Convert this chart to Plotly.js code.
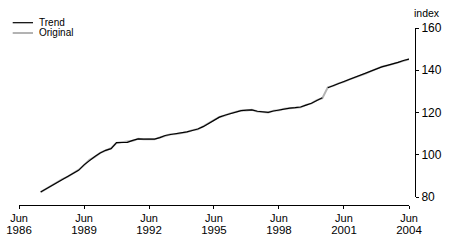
<!DOCTYPE html>
<html><head><meta charset="utf-8">
<script src="https://cdn.plot.ly/plotly-3.0.1.min.js"></script>
<style>html,body{margin:0;padding:0;background:#fff}#chart{width:449px;height:243px}</style>
</head><body><div id="chart"></div>
<script>
const quarters = ['1987-06-01','1987-09-01','1987-12-01','1988-03-01','1988-06-01','1988-09-01','1988-12-01','1989-03-01','1989-06-01','1989-09-01',
'1989-12-01','1990-03-01','1990-06-01','1990-09-01','1990-12-01','1991-03-01','1991-06-01','1991-09-01','1991-12-01','1992-03-01',
'1992-06-01','1992-09-01','1992-12-01','1993-03-01','1993-06-01','1993-09-01','1993-12-01','1994-03-01','1994-06-01','1994-09-01',
'1994-12-01','1995-03-01','1995-06-01','1995-09-01','1995-12-01','1996-03-01','1996-06-01','1996-09-01','1996-12-01','1997-03-01',
'1997-06-01','1997-09-01','1997-12-01','1998-03-01','1998-06-01','1998-09-01','1998-12-01','1999-03-01','1999-06-01','1999-09-01',
'1999-12-01','2000-03-01','2000-06-01','2000-09-01','2000-12-01','2001-03-01','2001-06-01','2001-09-01','2001-12-01','2002-03-01',
'2002-06-01','2002-09-01','2002-12-01','2003-03-01','2003-06-01','2003-09-01','2003-12-01','2004-03-01','2004-06-01'];
const trend = [82.4,83.9,85.4,86.9,88.4,89.8,91.2,92.6,95.2,97.4,
99.2,100.8,102.1,102.9,105.7,105.8,105.9,106.8,107.5,107.4,
107.3,107.4,108.1,109.1,109.6,109.9,110.2,110.8,111.5,112.2,
113.3,114.8,116.3,117.8,118.7,119.5,120.3,120.9,121.1,121.2,
120.6,120.2,120.1,120.7,121.2,121.7,122.1,122.3,122.6,123.5,
124.4,125.7,127.0,131.7,132.7,133.7,134.6,135.6,136.6,137.5,
138.5,139.5,140.6,141.6,142.3,142.9,143.7,144.6,145.3];
const original = [82.3,83.8,85.6,86.8,88.5,89.6,91.3,92.8,95.0,97.6,
99.0,100.9,102.0,103.1,105.6,105.9,106.0,106.6,107.6,107.3,
107.4,107.3,108.2,109.0,109.7,109.8,110.3,110.7,111.6,112.1,
113.4,114.9,116.2,117.9,118.6,119.6,120.2,121.0,121.0,121.3,
120.5,120.3,120.0,120.8,121.1,121.8,122.0,122.4,122.5,123.6,
124.3,125.9,126.8,131.9,132.6,133.8,134.5,135.7,136.5,137.6,
138.4,139.6,140.5,141.7,142.2,143.0,143.6,144.7,145.2];
// trend series is broken between these two quarters (GST introduction)
const trendBreakAfter = '2000-06-01';
const trendBreakDate = '2000-08-01';
const tickDates = ['1986-06-01','1989-06-01','1992-06-01','1995-06-01','1998-06-01','2001-06-01','2004-06-01'];
const tickMonths = ['Jun','Jun','Jun','Jun','Jun','Jun','Jun'];
const tickYears = ['1986','1989','1992','1995','1998','2001','2004'];
const yTicks = [80,100,120,140,160];
const seriesNames = ['Trend','Original'];

const tx = [], ty = [];
quarters.forEach((d,i)=>{ tx.push(d); ty.push(trend[i]); if(d===trendBreakAfter){ tx.push(trendBreakDate); ty.push(null);} });

const FONT = 'Liberation Sans, Arial, sans-serif';
const data = [
  {x: quarters, y: original, type:'scatter', mode:'lines', line:{color:'#b3b3b3', width:2}, showlegend:false, hoverinfo:'skip'},
  {x: tx, y: ty, type:'scatter', mode:'lines', line:{color:'#000', width:1.2}, connectgaps:false, showlegend:false, hoverinfo:'skip'},
  {x: [], y: [], xaxis:'x2', yaxis:'y', type:'scatter', mode:'lines', showlegend:false, hoverinfo:'skip'}
];
const L = 19, R = 34, T = 28, B = 38, W = 449, H = 243;
const pw = W - L - R, ph = H - T - B;
const px = v => (v - L)/pw, py = v => (T + ph - v)/ph;
const xRange = [tickDates[0], tickDates[tickDates.length-1]];
const layout = {
  width: W, height: H, margin:{l:L, r:R, t:T, b:B, pad:0},
  paper_bgcolor:'#fff', plot_bgcolor:'#fff',
  font:{family:FONT, size:11, color:'#000'},
  showlegend:false,
  xaxis:{type:'date', domain:[0, 390/pw], range:xRange,
    anchor:'free', position:0,
    tickmode:'array', tickvals:tickDates, ticktext:tickMonths,
    ticks:'outside', ticklen:3, tickwidth:1, tickcolor:'#000',
    showline:true, linecolor:'#000', linewidth:1, showgrid:false, zeroline:false,
    tickfont:{family:FONT, size:11}},
  xaxis2:{type:'date', domain:[0, 390/pw], range:xRange, overlaying:'x',
    anchor:'free', position:0, side:'bottom',
    tickmode:'array', tickvals:tickDates, ticktext:tickYears,
    ticks:'outside', ticklen:3, tickcolor:'rgba(0,0,0,0)', ticklabelstandoff:11,
    showline:false, showgrid:false, zeroline:false,
    tickfont:{family:FONT, size:11.5}},
  yaxis:{range:[80,160], domain:[8/ph, 1], side:'right', anchor:'free', position:1,
    tickmode:'array', tickvals:yTicks, ticks:'outside', ticklen:3, tickwidth:1, tickcolor:'#000',
    showline:true, linecolor:'#000', linewidth:1, showgrid:false, zeroline:false,
    tickfont:{family:FONT, size:12}},
  shapes:[
    {type:'line', xref:'paper', yref:'paper', x0:px(12.7), x1:px(33), y0:py(22.7), y1:py(22.7), line:{color:'#000', width:1.2}},
    {type:'line', xref:'paper', yref:'paper', x0:px(12.7), x1:px(33), y0:py(33), y1:py(33), line:{color:'#b3b3b3', width:2}}
  ],
  annotations:[
    {xref:'paper', yref:'paper', x:px(37), y:py(22.2), text:seriesNames[0], showarrow:false, xanchor:'left', yanchor:'middle', font:{family:FONT, size:10}},
    {xref:'paper', yref:'paper', x:px(37), y:py(33), text:seriesNames[1], showarrow:false, xanchor:'left', yanchor:'middle', font:{family:FONT, size:10}},
    {xref:'paper', yref:'paper', x:px(427), y:py(13), text:'index', showarrow:false, xanchor:'center', yanchor:'middle', font:{family:FONT, size:10.5}}
  ]
};
Plotly.newPlot('chart', data, layout, {staticPlot:true, displayModeBar:false});
</script></body></html>
